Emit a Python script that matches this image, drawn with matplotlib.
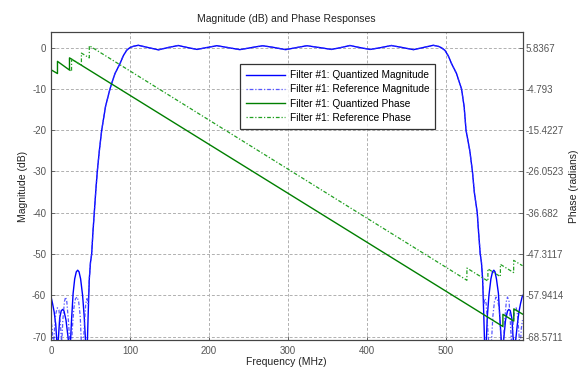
import numpy as np
import matplotlib
matplotlib.use("Agg")
import matplotlib.pyplot as plt

plt.rcParams['font.family'] = ['Liberation Sans', 'DejaVu Sans']
plt.rcParams['axes.unicode_minus'] = False

# ---------------- data ----------------
# Quantized magnitude (MHz, dB)
qmag_f = [0, 2, 4, 6, 7.5, 8.5, 9.5, 11, 13, 14.8, 16.5, 19, 21.5, 23, 24.5, 26, 28, 30, 32,
          33.8, 35.5, 37.5, 40, 42, 44, 45.5, 47, 48.5, 50, 51.5, 53, 54.8, 56.6, 58.6, 61.2,
          64.2, 69, 74.7, 76.8, 81, 87.3, 91.5, 95.8, 100, 104.2, 110.5, 123, 136, 148, 161,
          173, 185, 197, 210, 224, 239, 254, 268, 283, 297, 311, 324, 340, 355, 367, 378.5,
          391, 404, 418, 431, 445, 459, 471, 484, 490.5, 494, 498.7, 503, 507.2, 513.5, 517.5,
          519.8, 523.1, 525.5, 530.3, 533.6, 536, 539.7, 541.5, 543.5, 545, 546.5, 548, 549.5,
          551, 552.5, 554.5, 557, 559, 560.7, 562.2, 564, 566.5, 568.5, 570.5, 572, 573.5,
          575.5, 578, 579.7, 581.5, 583.5, 585, 586.5, 588, 590.5, 592.5, 594.5, 597]
qmag_db = [-60.3, -62, -64, -67, -71.5, -72, -70, -65.5, -63.7, -63.4, -63.8, -66, -70, -73,
           -72, -66, -59.5, -56, -54.3, -53.9, -54.3, -56, -60, -65, -72, -75, -65, -56, -52,
           -50, -45, -40, -35, -30, -25, -20, -14.3, -10, -8.7, -6.3, -3.9, -2, -0.65, 0.0,
           0.3, 0.55, 0.0, -0.55, 0.0, 0.5, 0.0, -0.45, 0.0, 0.45, 0.0, -0.5, 0.0, 0.45, 0.0,
           -0.5, 0.0, 0.45, 0.0, -0.45, 0.0, 0.5, 0.0, -0.45, 0.0, 0.5, 0.0, -0.5, 0.0, 0.55,
           0.3, 0.0, -0.65, -2, -3.9, -6.3, -8.7, -10, -14.3, -20, -25, -30, -35, -40, -45,
           -50, -52, -56, -65, -75, -72, -65, -60, -56, -54.3, -53.9, -54.3, -56, -59.5, -66,
           -72, -73, -70, -66, -63.8, -63.4, -63.7, -65.5, -70, -72, -71.5, -67, -64, -62, -60]

# Reference magnitude (MHz, dB)
rmag_f = [0, 1.5, 3, 4.5, 6, 8, 10, 12, 13.5, 15, 17, 18.5, 20, 22, 24, 25.5, 27, 29,
          31, 33, 35, 37, 38.5, 40, 42, 44, 45.5, 47, 48.5, 50, 51.5, 53, 54.8, 56.6, 58.6,
          61.2, 64.2, 69, 74.7, 76.8, 81, 87.3, 91.5, 95.8, 100, 104.2, 110.5, 123, 136, 148,
          161, 173, 185, 197, 210, 224, 239, 254, 268, 283, 297, 311, 324, 340, 355, 367,
          378.5, 391, 404, 418, 431, 445, 459, 471, 484, 490.5, 494, 498.7, 503, 507.2, 513.5,
          517.5, 519.8, 523.1, 525.5, 530.3, 533.6, 536, 539.7, 541.5, 543.5, 545, 546.5,
          548, 549.5, 551, 553, 555.5, 557.5, 559.5, 561.5, 563.5, 565, 567.5, 569, 571,
          572.5, 574.5, 576.5, 578, 580, 581.5, 583, 585, 587, 589, 590.5, 592, 594, 595.5, 597]
rmag_db = [-66, -68, -73, -68, -64.5, -63, -63.5, -67, -72, -66, -61.5, -60.4, -61.5, -66,
           -72, -75, -68, -63, -60.8, -60.4, -61.5, -65, -72, -75, -68, -62, -60.8, -62,
           -56, -52, -50, -45, -40, -35, -30, -25, -20, -14.3, -10, -8.7, -6.3, -3.9, -2,
           -0.65, 0.0, 0.3, 0.55, 0.0, -0.55, 0.0, 0.5, 0.0, -0.45, 0.0, 0.45, 0.0, -0.5, 0.0,
           0.45, 0.0, -0.5, 0.0, 0.45, 0.0, -0.45, 0.0, 0.5, 0.0, -0.45, 0.0, 0.5, 0.0, -0.5,
           0.0, 0.55, 0.3, 0.0, -0.65, -2, -3.9, -6.3, -8.7, -10, -14.3, -20, -25, -30, -35,
           -40, -45, -50, -52, -56, -62, -60.8, -62, -68, -75, -72, -65, -61.5, -60.4, -60.8,
           -63, -68, -75, -72, -66, -61.5, -60.4, -61.5, -66, -72, -67, -63.5, -63, -64.5,
           -68, -73, -68, -66]

# Phase (radians) - quantized filter
qph_f = [0, 8.2, 8.2, 23.4, 23.4, 572.2, 572.2, 586, 586, 597]
qph_rad = [0.13, -0.85, 2.29, 0.05, 3.19, -65.95, -62.81, -64.55, -61.41, -62.75]

# Phase (radians) - reference filter
rph_f = [23.4, 26, 26, 38.5, 38.5, 48.5, 48.5, 526.6, 526.6, 553.2, 553.2, 569, 569,
         585.8, 585.8, 597]
rph_rad = [0.05, -0.28, 2.86, 1.28, 4.42, 3.18, 6.32, -54.05, -50.91, -54.26, -51.12,
           -53.1, -49.96, -52.07, -48.93, -50.3]

xticks = [0, 100, 200, 300, 400, 500]
mag_ticks = [0, -10, -20, -30, -40, -50, -60, -70]
phase_tick_labels = ['5.8367', '-4.793', '-15.4227', '-26.0523', '-36.682',
                     '-47.3117', '-57.9414', '-68.5711']

# ---------------- figure ----------------
fig = plt.figure(figsize=(5.82, 3.72), dpi=100)
ax = fig.add_axes([51 / 582, 1 - 340 / 372, (522.5 - 51) / 582, (340 - 32) / 372])

grey = '#555555'
ax.set_xlim(0, 597)
ax.set_ylim(-70.8, 3.77)
ax.set_xticks(xticks)
ax.set_yticks(mag_ticks)
ax.grid(True, color='#b0b0b0', linestyle=(0, (3, 2)), linewidth=0.7)
ax.set_axisbelow(True)

l1, = ax.plot(qmag_f, qmag_db, color='blue', lw=1.0, label='Filter #1: Quantized Magnitude')
l2, = ax.plot(rmag_f, rmag_db, color='#3030ff', lw=0.9, linestyle=(0, (1, 1.5, 3, 1.5)),
              label='Filter #1: Reference Magnitude', alpha=0.8)

ax2 = ax.twinx()
lo = 5.8367 + 1.06297 * (-70.8)
hi = 5.8367 + 1.06297 * 3.77
ax2.set_ylim(lo, hi)
ph_ticks = [5.8367 + 1.06297 * m for m in mag_ticks]
ax2.set_yticks(ph_ticks)
ax2.set_yticklabels(phase_tick_labels)
l3, = ax2.plot(qph_f, qph_rad, color='#007f00', lw=1.0, label='Filter #1: Quantized Phase')
l4, = ax2.plot(rph_f, rph_rad, color='#22a022', lw=0.9, linestyle=(0, (1, 1.5, 3, 1.5)),
               label='Filter #1: Reference Phase')

for a in (ax, ax2):
    for s in a.spines.values():
        s.set_color('#444444')
        s.set_linewidth(0.8)
    a.tick_params(labelsize=7, colors=grey, length=3, width=0.6, direction='in')
ax.tick_params(axis='x', pad=4)
ax2.tick_params(axis='y', pad=2)

ax.set_title('Magnitude (dB) and Phase Responses', fontsize=7.5, color='#222222', pad=7)
ax.set_xlabel('Frequency (MHz)', fontsize=7.5, color='#222222', labelpad=1)
ax.set_ylabel('Magnitude (dB)', fontsize=7.5, color='#222222', labelpad=3)
ax2.set_ylabel('Phase (radians)', fontsize=7.5, color='#222222', labelpad=4, rotation=90)

leg = ax2.legend(handles=[l1, l2, l3, l4], loc='upper left',
                 bbox_to_anchor=((240 - 51) / 471.5, (340 - 64) / 308),
                 fontsize=7.3, frameon=True, fancybox=False, edgecolor='black',
                 handlelength=3.8, handletextpad=0.5, borderpad=0.6, labelspacing=0.42,
                 borderaxespad=0)
leg.get_frame().set_linewidth(0.9)

fig.savefig('out.png', dpi=100)
